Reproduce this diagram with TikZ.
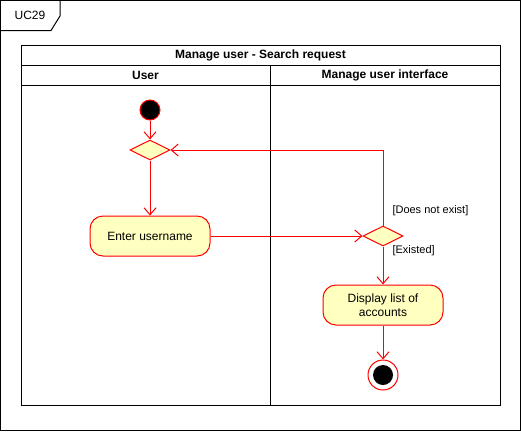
\documentclass[tikz,border=0pt]{standalone}
\usepackage{fontspec}
\setmainfont{Liberation Sans}
\usetikzlibrary{arrows.meta,shapes.geometric}
\definecolor{ured}{HTML}{FF0000}
\definecolor{ufill}{HTML}{FFFFC0}
\begin{document}
\begin{tikzpicture}[x=1pt,y=-1pt,line width=1pt,
  txt/.style={font=\fontsize{12}{14}\selectfont},
  act/.style={draw=ured,fill=ufill,rounded corners=13pt,minimum width=120pt,minimum height=40pt,inner sep=0pt,align=center,txt},
  dec/.style={draw=ured,fill=ufill,diamond,minimum width=40pt,minimum height=20pt,inner sep=0pt,aspect=2},
  flow/.style={draw=ured,-{Straight Barb[length=7pt,width=12pt]}},
  guard/.style={txt,font=\fontsize{11}{13}\selectfont,anchor=west,inner sep=0pt}]
\useasboundingbox (0,0) rectangle (521,431);
% outer frame
\draw (0.5,0.5) rectangle (520.5,430.5);
\draw (0.5,30.5) -- (51,30.5) -- (60,16) -- (60,0.5);
\node[txt,anchor=center] (uc) at (30,15) {UC29};
% pool
\draw (21,45) rectangle (500,405);
\draw (21,65) -- (500,65);
\draw (21,85) -- (500,85);
\draw (270,65) -- (270,405);
\node[txt,font=\fontsize{12}{14}\selectfont\bfseries] (title) at (260.5,55) {Manage user - Search request};
\node[txt,font=\fontsize{12}{14}\selectfont\bfseries] (lane1) at (145.5,75) {User};
\node[txt,font=\fontsize{12}{14}\selectfont\bfseries] (lane2) at (385,75) {Manage user interface};
% nodes
\node[circle,draw=ured,fill=black,minimum size=20pt,inner sep=0pt] (start) at (150,110) {};
\node[dec] (d1) at (150,150) {};
\node[act] (enter) at (150,236) {Enter username};
\node[dec] (d2) at (383,236) {};
\node[act] (disp) at (383,305) {Display list of\\accounts};
\node[circle,draw=ured,fill=white,minimum size=30pt,inner sep=0pt] (end) at (383,375) {};
\node[circle,fill=black,minimum size=20pt,inner sep=0pt] (endin) at (383,375) {};
% edges
\draw[flow] (start) -- (d1);
\draw[flow] (d1) -- (enter);
\draw[flow] (enter) -- (d2);
\draw[flow] (d2.north) -- (383,150) -- (d1.east);
\draw[flow] (d2) -- (disp);
\draw[flow] (disp) -- (end);
\node[guard] (g1) at (392,211) {[Does not exist]};
\node[guard] (g2) at (392,251) {[Existed]};
\end{tikzpicture}
\end{document}
